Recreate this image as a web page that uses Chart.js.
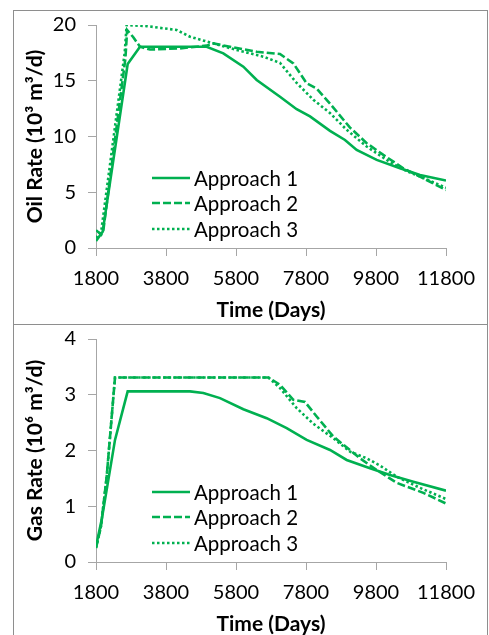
<!DOCTYPE html>
<html>
<head>
<meta charset="utf-8">
<script src="https://cdn.jsdelivr.net/npm/chart.js"></script>
<style>
  html, body { margin:0; padding:0; background:#fff; overflow:hidden; width:489px; height:635px; }
  .box { position:absolute; box-sizing:border-box; border:1px solid #8e8e8e; }
  canvas { position:absolute; }
</style>
</head>
<body>
<div class="box" style="left:13px;top:10px;width:475px;height:315px;"></div>
<div class="box" style="left:13px;top:324px;width:475px;height:340px;"></div>
<canvas id="oil" width="472" height="313" style="left:14px;top:11px;width:472px;height:313px;"></canvas>
<canvas id="gas" width="472" height="313" style="left:14px;top:325px;width:472px;height:313px;"></canvas>
<script>
// ---- data ----
const seriesNames = ['Approach 1', 'Approach 2', 'Approach 3'];
const xTickValues = [1800, 3800, 5800, 7800, 9800, 11800];
const oilYTicks = [0, 5, 10, 15, 20];
const gasYTicks = [0, 1, 2, 3, 4];

const oilDays1 = [1800, 1990, 2705, 3057, 4962, 5438, 6010, 6391, 7057, 7534, 7914, 8486, 8914, 9248, 9820, 10486, 11057, 11800];
const oilRate1 = [0.63, 1.45, 16.5, 18.05, 18.05, 17.46, 16.26, 15.07, 13.57, 12.45, 11.8, 10.5, 9.69, 8.79, 7.9, 7.15, 6.55, 6.05];

const oilDays2 = [1800, 1950, 2010, 2640, 2690, 2866, 3057, 3343, 4200, 4962, 5152, 5629, 6391, 7057, 7438, 7819, 8105, 8486, 9057, 9534, 10009, 10580, 11057, 11800];
const oilRate2 = [1.6, 1.2, 1.6, 17.0, 19.55, 18.9, 18.05, 17.8, 17.9, 18.15, 18.35, 18.05, 17.6, 17.4, 16.56, 14.77, 14.3, 12.95, 10.8, 9.4, 8.35, 7.15, 6.4, 5.2];

const oilDays3 = [1800, 1950, 2620, 2676, 3248, 4105, 4486, 5152, 5819, 6581, 7057, 7534, 8009, 8486, 8962, 9534, 10200, 10677, 11248, 11800];
const oilRate3 = [0.9, 1.5, 17.5, 20.0, 19.9, 19.55, 18.95, 18.35, 17.76, 17.16, 16.6, 14.8, 13.3, 12.1, 10.6, 9.1, 7.7, 6.9, 6.15, 5.4];

const gasDays1 = [1800, 1963, 2343, 2705, 4486, 4867, 5343, 6010, 6677, 7248, 7819, 8486, 8962, 9629, 10200, 10867, 11800];
const gasRate1 = [0.28, 0.76, 2.19, 3.06, 3.06, 3.03, 2.94, 2.74, 2.58, 2.40, 2.19, 2.01, 1.83, 1.68, 1.56, 1.44, 1.28];

const gasDays2 = [1800, 1943, 2105, 2343, 6724, 7057, 7438, 7771, 8105, 8581, 9343, 9820, 10391, 11153, 11800];
const gasRate2 = [0.25, 0.64, 1.53, 3.31, 3.31, 3.18, 2.91, 2.87, 2.61, 2.25, 1.86, 1.65, 1.42, 1.24, 1.05];

const gasDays3 = [1800, 1943, 2105, 2343, 6724, 7057, 7534, 8009, 8581, 9057, 9534, 9915, 10391, 11057, 11800];
const gasRate3 = [0.25, 0.64, 1.53, 3.31, 3.31, 3.12, 2.76, 2.48, 2.22, 1.98, 1.86, 1.73, 1.53, 1.33, 1.13];

// ---- styles ----
const GREEN = '#00B050';
const AXIS = '#a6a6a6';
const FONT = 'Lato, "Open Sans", sans-serif';
const dashes = [[], [8, 3], [2.5, 2.5]];

function pts(days, vals) { return days.map((d, i) => ({ x: d, y: vals[i] })); }

function makeDatasets(list) {
  return list.map((s, i) => ({
    label: seriesNames[i],
    data: pts(s[0], s[1]),
    borderColor: GREEN,
    backgroundColor: GREEN,
    borderWidth: 2.6,
    borderDash: dashes[i],
    pointRadius: 0,
    tension: 0,
    fill: false
  }));
}

const legendPlugin = {
  id: 'inLegend',
  afterDatasetsDraw(chart) {
    const ctx = chart.ctx, a = chart.chartArea;
    const x0 = a.left + 56, x1 = a.left + 94, tx = a.left + 98;
    const rows = [153, 178, 204];
    ctx.save();
    chart.data.datasets.forEach((ds, i) => {
      const y = a.top + rows[i];
      ctx.beginPath();
      ctx.strokeStyle = ds.borderColor;
      ctx.lineWidth = ds.borderWidth;
      ctx.setLineDash(ds.borderDash);
      ctx.moveTo(x0, y); ctx.lineTo(x1, y);
      ctx.stroke();
      ctx.setLineDash([]);
      ctx.fillStyle = '#000';
      ctx.font = '20.5px ' + FONT;
      ctx.textBaseline = 'middle';
      ctx.textAlign = 'left';
      ctx.fillText(ds.label, tx, y + 1);
    });
    ctx.restore();
  }
};

function makeChart(id, datasets, yMax, yTicks, yTitle) {
  return new Chart(document.getElementById(id), {
    type: 'line',
    data: { datasets },
    plugins: [legendPlugin],
    options: {
      responsive: false,
      animation: false,
      devicePixelRatio: 1,
      layout: { padding: { top: 14, right: 40, bottom: 0, left: 0 } },
      plugins: { legend: { display: false }, tooltip: { enabled: false } },
      scales: {
        x: {
          type: 'linear', min: xTickValues[0], max: xTickValues[xTickValues.length - 1],
          afterBuildTicks: s => { s.ticks = xTickValues.map(v => ({ value: v })); },
          afterFit: s => { s.height = 76; s.paddingLeft = 0; s.paddingRight = 0; },
          ticks: { callback: v => String(v), color: '#000', font: { family: FONT, size: 20 }, padding: 11, maxRotation: 0, autoSkip: false },
          grid: { drawOnChartArea: false, drawTicks: true, tickLength: 8, color: AXIS },
          border: { color: AXIS, width: 1 },
          title: { display: true, text: 'Time (Days)', color: '#000', font: { family: FONT, size: 21, weight: 'bold' }, padding: { top: 0, bottom: 1 } }
        },
        y: {
          type: 'linear', min: 0, max: yMax,
          afterBuildTicks: s => { s.ticks = yTicks.map(v => ({ value: v })); },
          afterFit: s => { s.width = 82; s.paddingTop = 0; s.paddingBottom = 0; },
          ticks: { callback: v => String(v), color: '#000', font: { family: FONT, size: 20 }, padding: 12 },
          grid: { drawOnChartArea: false, drawTicks: true, tickLength: 8, color: AXIS },
          border: { color: AXIS, width: 1 },
          title: { display: true, text: yTitle, color: '#000', font: { family: FONT, size: 21, weight: 'bold' }, padding: { top: 9, bottom: 0 } }
        }
      }
    }
  });
}

makeChart('oil', makeDatasets([[oilDays1, oilRate1], [oilDays2, oilRate2], [oilDays3, oilRate3]]), 20, oilYTicks, 'Oil Rate (10³ m³/d)');
makeChart('gas', makeDatasets([[gasDays1, gasRate1], [gasDays2, gasRate2], [gasDays3, gasRate3]]), 4, gasYTicks, 'Gas Rate (10⁶ m³/d)');
</script>
</body>
</html>
